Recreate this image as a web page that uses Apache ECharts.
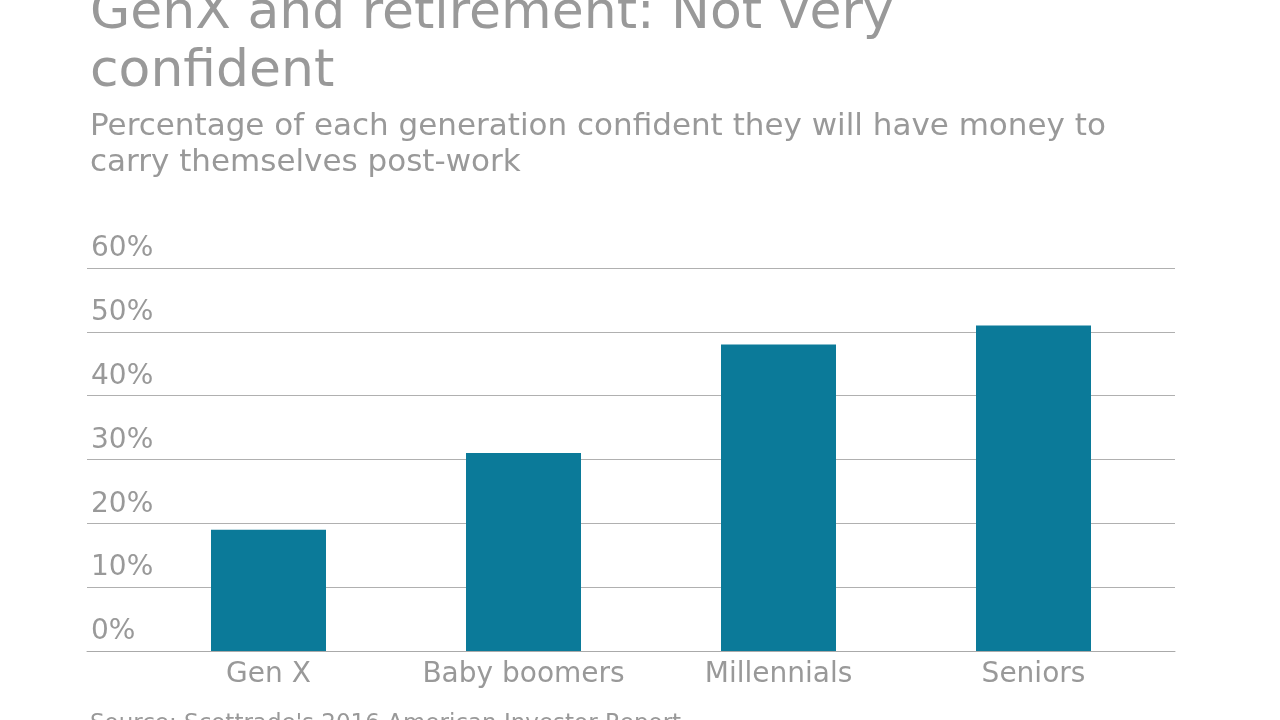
<!DOCTYPE html>
<html>
<head>
<meta charset="utf-8">
<script src="https://cdn.jsdelivr.net/npm/echarts@6/dist/echarts.min.js"></script>
<style>html,body{margin:0;padding:0;background:#fff}#chart{width:1280px;height:720px}</style>
</head>
<body>
<div id="chart"></div>
<script>
var categories = ['Gen X', 'Baby boomers', 'Millennials', 'Seniors'];
var values = [19, 31, 48, 51];
var yTicks = [0, 10, 20, 30, 40, 50, 60];

var chart = echarts.init(document.getElementById('chart'));
var font = 'DejaVu Sans';
var grey = '#999999';

chart.setOption({
  animation: false,
  textStyle: { fontFamily: font },
  title: [{
    text: 'GenX and retirement: Not very\nconfident',
    left: 85, top: -20,
    textStyle: { fontFamily: font, fontSize: 52, fontWeight: 'normal', color: grey, lineHeight: 58 }
  }, {
    text: 'Percentage of each generation confident they will have money to\ncarry themselves post-work',
    left: 85, top: 104,
    textStyle: { fontFamily: font, fontSize: 31, fontWeight: 'normal', color: grey, lineHeight: 36 }
  }, {
    text: "Source: Scottrade's 2016 American Investor Report",
    left: 85, top: 708,
    textStyle: { fontFamily: font, fontSize: 23, fontWeight: 'normal', color: grey }
  }],
  grid: [
    { left: 87, right: 105, top: 268, bottom: 69 },
    { left: 141, right: 119, top: 268, bottom: 69 }
  ],
  xAxis: [{
    type: 'category', gridIndex: 0,
    data: categories,
    axisLine: { lineStyle: { color: '#aaaaaa' } },
    axisTick: { show: false },
    axisLabel: { show: false }
  }, {
    type: 'category', gridIndex: 1,
    data: categories,
    axisLine: { show: false },
    axisTick: { show: false },
    axisLabel: { color: grey, fontSize: 28, margin: 10, interval: 0 }
  }],
  yAxis: [{
    type: 'value', gridIndex: 0,
    min: yTicks[0], max: yTicks[yTicks.length - 1], interval: 10,
    axisLabel: {
      inside: true, color: grey, fontSize: 28, verticalAlign: 'bottom',
      margin: 4, padding: [0, 0, 5, 0],
      formatter: function (v) { return v + '%'; }
    },
    splitLine: { lineStyle: { color: '#b0b0b0' } },
    axisLine: { show: false },
    axisTick: { show: false }
  }, {
    type: 'value', gridIndex: 1,
    min: yTicks[0], max: yTicks[yTicks.length - 1], interval: 10,
    show: false
  }],
  series: [{
    type: 'bar',
    xAxisIndex: 1, yAxisIndex: 1,
    data: values,
    barWidth: 115,
    itemStyle: { color: '#0b7a99' }
  }]
});
</script>
</body>
</html>
